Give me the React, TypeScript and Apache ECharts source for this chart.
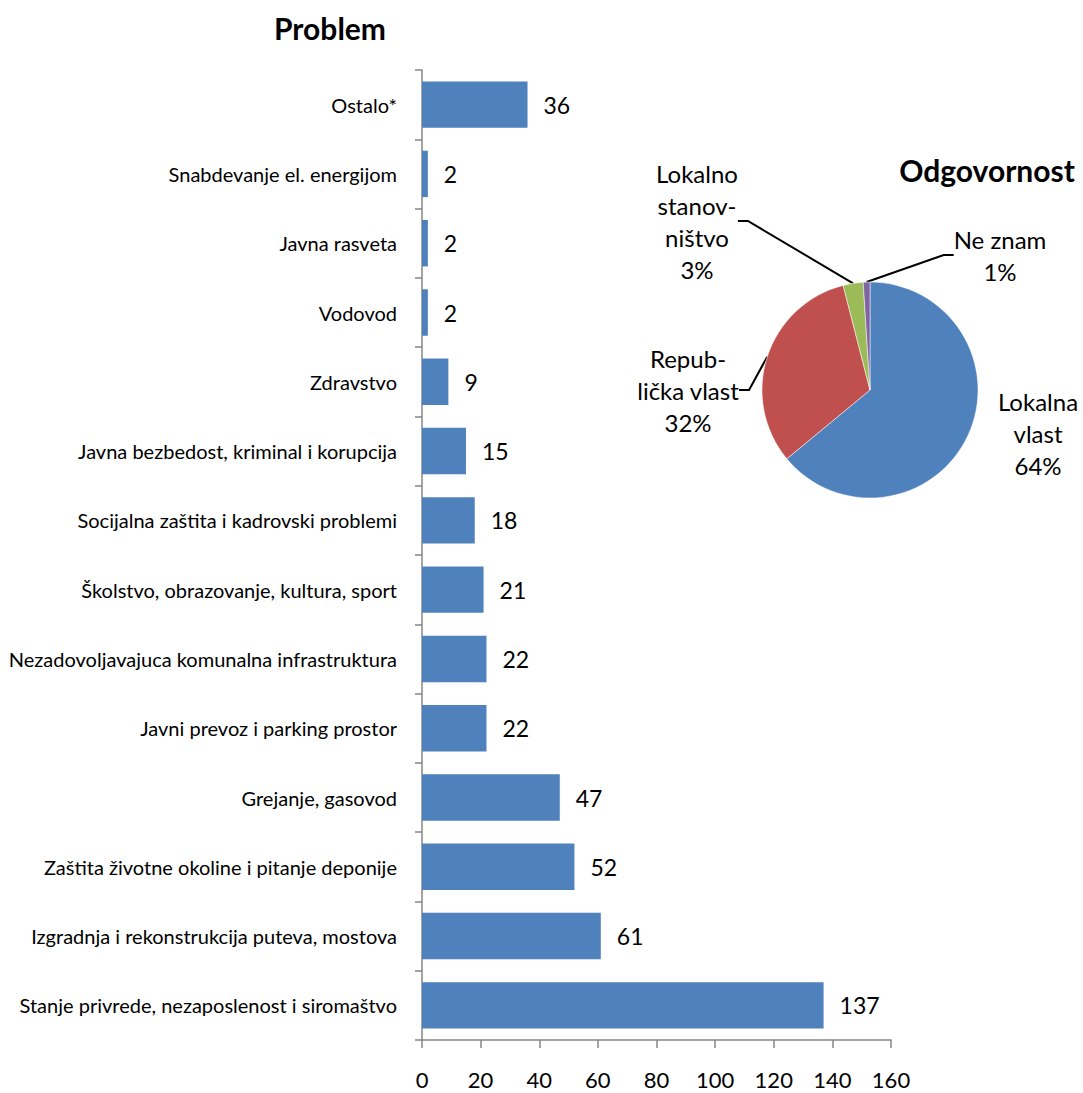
import React, { useEffect, useRef } from "react";
import * as echarts from "echarts";

const categories = [
  "Ostalo*",
  "Snabdevanje el. energijom",
  "Javna rasveta",
  "Vodovod",
  "Zdravstvo",
  "Javna bezbedost, kriminal i korupcija",
  "Socijalna zaštita i kadrovski problemi",
  "Školstvo, obrazovanje, kultura, sport",
  "Nezadovoljavajuca komunalna infrastruktura",
  "Javni prevoz i parking prostor",
  "Grejanje, gasovod",
  "Zaštita životne okoline i pitanje deponije",
  "Izgradnja i rekonstrukcija puteva, mostova",
  "Stanje privrede, nezaposlenost i siromaštvo",
];
const counts = [36, 2, 2, 2, 9, 15, 18, 21, 22, 22, 47, 52, 61, 137];
const xTicks = { min: 0, max: 160, interval: 20 };

const pieNames = ["Lokalna\nvlast", "Repub-\nlička vlast", "Lokalno\nstanov-\nništvo", "Ne znam"];
const pieValues = [64, 32, 3, 1];
const pieColors = ["#4F81BD", "#C0504D", "#9BBB59", "#8064A2"];
const pieShowLine = [false, true, true, true];

const FONT = "Lato, 'Open Sans', sans-serif";

export default function App() {
  const ref = useRef<HTMLDivElement>(null);
  useEffect(() => {
    if (!ref.current) return;
    const chart = echarts.init(ref.current, undefined, { renderer: "svg" });
    const labelPos = [
      { x: 1038, y: 433 },
      { x: 688, y: 390 },
      { x: 697, y: 221 },
      { x: 1000, y: 255 },
    ];
    chart.setOption({
      animation: false,
      textStyle: { fontFamily: FONT },
      title: [
        {
          text: "Problem",
          left: 325,
          top: 8,
          textAlign: "center",
          textStyle: { fontSize: 30, fontWeight: "bold", color: "#000", fontFamily: FONT },
        },
        {
          text: "Odgovornost",
          left: 982,
          top: 150,
          textAlign: "center",
          textStyle: { fontSize: 30, fontWeight: "bold", color: "#000", fontFamily: FONT },
        },
      ],
      grid: { left: 422, right: 192, top: 70, bottom: 53, containLabel: false },
      xAxis: {
        type: "value",
        min: xTicks.min,
        max: xTicks.max,
        interval: xTicks.interval,
        splitLine: { show: false },
        axisLine: { show: true, lineStyle: { color: "#868686", width: 1.5 } },
        axisTick: { show: true, length: 8, lineStyle: { color: "#868686", width: 1.5 } },
        axisLabel: { fontSize: 22, color: "#000", margin: 28, fontFamily: FONT },
      },
      yAxis: {
        type: "category",
        data: categories,
        inverse: true,
        axisLine: { show: true, lineStyle: { color: "#868686", width: 1.5 } },
        axisTick: { show: true, length: 7, alignWithLabel: false, lineStyle: { color: "#868686", width: 1.5 } },
        axisLabel: { fontSize: 20, color: "#000", margin: 25, fontFamily: FONT, interval: 0 },
      },
      series: [
        {
          type: "bar",
          data: counts,
          barCategoryGap: "33%",
          itemStyle: { color: "#4F81BD" },
          label: {
            show: true,
            position: "right",
            distance: 16,
            fontSize: 23,
            color: "#000",
            fontFamily: FONT,
          },
        },
        {
          type: "pie",
          center: [870, 390],
          radius: 108,
          startAngle: 90,
          clockwise: true,
          data: pieNames.map((n, i) => ({
            name: n,
            value: pieValues[i],
            itemStyle: { color: pieColors[i] },
            labelLine: { show: pieShowLine[i] },
          })),
          label: {
            show: true,
            formatter: (p: any) => `${p.name}\n${p.value}%`,
            fontSize: 24,
            lineHeight: 32,
            color: "#000",
            fontFamily: FONT,
            align: "center",
            overflow: "none",
          },
          labelLine: {
            show: true,
            length: 20,
            length2: 10,
            lineStyle: { color: "#000", width: 2 },
          },
          labelLayout: (params: any) => {
            const p = labelPos[params.dataIndex];
            return { x: p.x, y: p.y, align: "center", verticalAlign: "middle", hideOverlap: false };
          },
          itemStyle: { borderColor: "#fff", borderWidth: 0.5 },
        },
      ],
    });
    return () => chart.dispose();
  }, []);
  return (
    <div
      ref={ref}
      style={{ position: "absolute", left: 0, top: 0, width: 1083, height: 1093, background: "#fff" }}
    />
  );
}
